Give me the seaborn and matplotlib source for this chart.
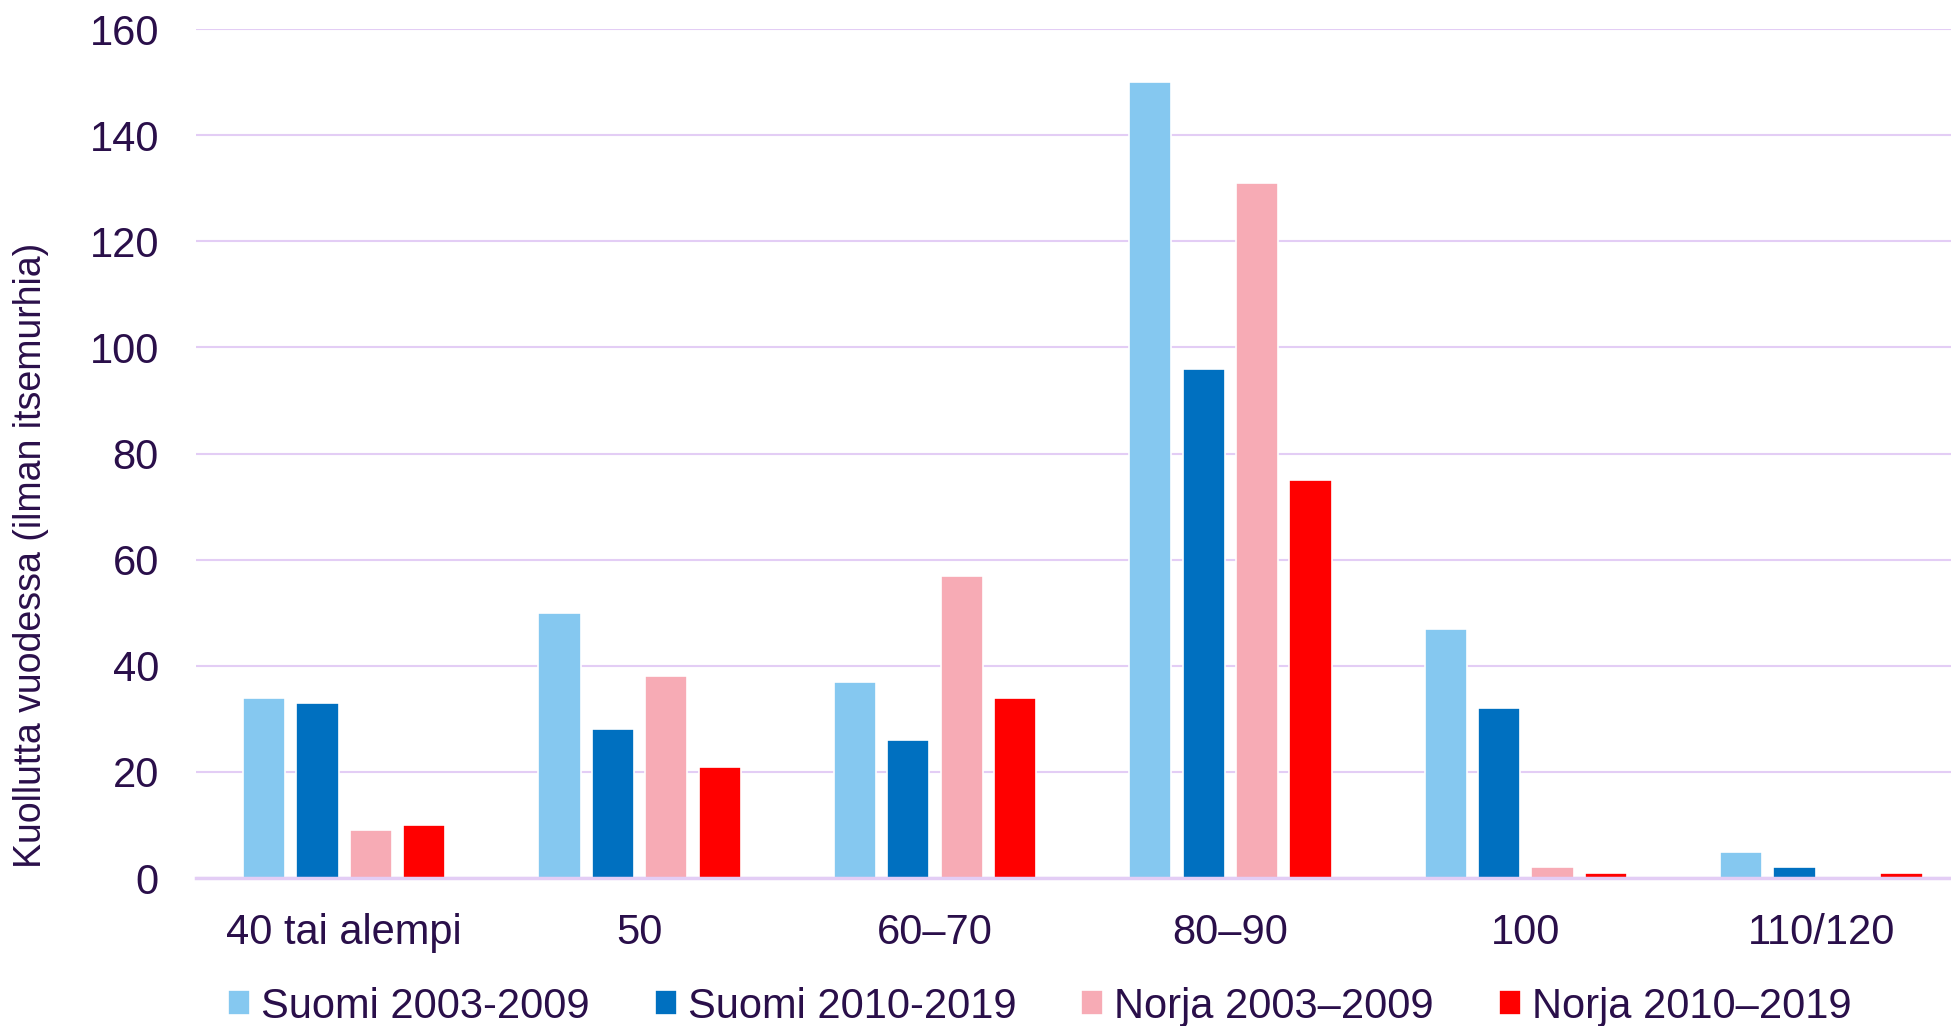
import matplotlib
matplotlib.use("Agg")
import matplotlib.pyplot as plt
import seaborn as sns
import pandas as pd

categories = ["40 tai alempi", "50", "60–70", "80–90", "100", "110/120"]
series_names = ["Suomi 2003-2009", "Suomi 2010-2019", "Norja 2003–2009", "Norja 2010–2019"]
suomi_2003_2009 = [34, 50, 37, 150, 47, 5]
suomi_2010_2019 = [33, 28, 26, 96, 32, 2]
norja_2003_2009 = [9, 38, 57, 131, 2, 0]
norja_2010_2019 = [10, 21, 34, 75, 1, 1]
y_ticks = [0, 20, 40, 60, 80, 100, 120, 140, 160]
colors = ["#85C8F0", "#0070C0", "#F7ABB5", "#FF0000"]

rows = []
for name, vals in zip(series_names,
                      [suomi_2003_2009, suomi_2010_2019, norja_2003_2009, norja_2010_2019]):
    for cat, v in zip(categories, vals):
        rows.append({"Nopeus": cat, "Sarja": name, "Arvo": v})
df = pd.DataFrame(rows)

sns.set_theme(style="white")
plt.rcParams["font.family"] = ["Liberation Sans", "DejaVu Sans"]
text_color = "#2A0F4A"
grid_color = "#E3CDF5"

fig = plt.figure(figsize=(19.51, 10.26), dpi=100)
# the plot area runs slightly past the right edge of the figure
ax = fig.add_axes([0.1007, 0.1442, 0.9085, 0.8275])

sns.barplot(data=df, x="Nopeus", y="Arvo", hue="Sarja", order=categories,
            hue_order=series_names, palette=colors, width=0.724, gap=0.21,
            saturation=1, edgecolor="white", linewidth=1.2, ax=ax, legend=True, zorder=3)

ax.set_ylim(0, 160)
ax.set_yticks(y_ticks)
ax.set_xlim(-0.5, len(categories) - 0.5)
ax.yaxis.grid(True, color=grid_color, linewidth=1.5, zorder=0)
ax.set_axisbelow(True)
for side in ["top", "right", "left"]:
    ax.spines[side].set_visible(False)
ax.spines["bottom"].set_color(grid_color)
ax.spines["bottom"].set_linewidth(2.5)
ax.spines["bottom"].set_zorder(4)

ax.tick_params(axis="both", length=0, labelsize=30, labelcolor=text_color)
ax.tick_params(axis="y", pad=27)
ax.tick_params(axis="x", pad=25)
ax.set_xlabel("")
ax.set_ylabel("")
fig.text(0.016, 0.459, "Kuollutta vuodessa (ilman itsemurhia)", rotation=90,
         ha="center", va="center", fontsize=27, color=text_color)

handles, labels = ax.get_legend_handles_labels()
ax.get_legend().remove()
fig.legend(handles, labels, loc="center", bbox_to_anchor=(0.533, 0.019), ncol=4,
           frameon=False, fontsize=30, labelcolor=text_color, handlelength=0.53,
           handleheight=0.53, handletextpad=0.26, columnspacing=1.56)

fig.savefig("out.png", dpi=100)
